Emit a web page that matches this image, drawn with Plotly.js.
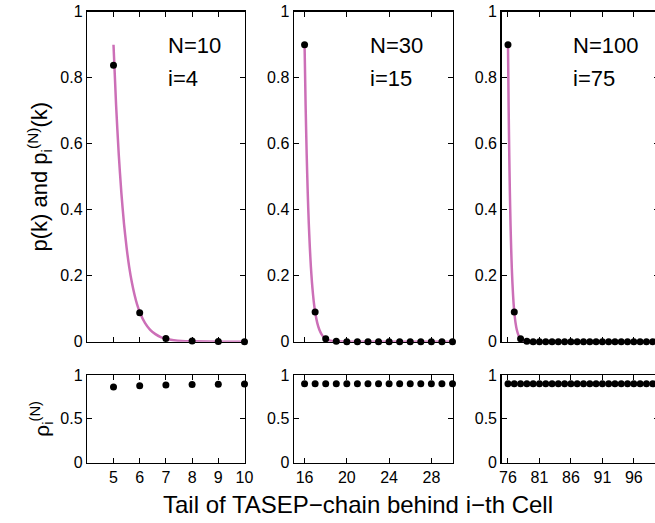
<!DOCTYPE html>
<html>
<head>
<meta charset="utf-8">
<script src="https://cdn.plot.ly/plotly-3.0.1.min.js"></script>
<style>html,body{margin:0;padding:0;overflow:hidden;background:#fff;}</style>
</head>
<body>
<div id="chart"></div>
<script>
// ---- data ----
// panel 1: N=10, i=4
const pts1K = [5, 6, 7, 8, 9, 10];
const pts1P = [0.838, 0.088, 0.010, 0.002, 0.0005, 0.0001];
const rho1 = [0.863, 0.878, 0.886, 0.891, 0.894, 0.897];
const curve1K = [5, 5.1, 5.2, 5.3, 5.4, 5.5, 5.6, 5.7, 5.8, 5.9, 6, 6.2, 6.4, 6.6, 6.8, 7, 7.3, 7.6, 8, 9, 10];
const curve1P = [0.90, 0.715, 0.568, 0.451, 0.358, 0.285, 0.226, 0.180, 0.143, 0.113, 0.090, 0.057, 0.036, 0.023, 0.014, 0.009, 0.0045, 0.002, 0.001, 0.0001, 0];

// panel 2: N=30, i=15
const pts2K = [16, 17, 18, 19, 20, 21, 22, 23, 24, 25, 26, 27, 28, 29, 30];
const pts2P = [0.90, 0.09, 0.009, 0.001, 0, 0, 0, 0, 0, 0, 0, 0, 0, 0, 0];
const rho2 = [0.9, 0.9, 0.9, 0.9, 0.9, 0.9, 0.9, 0.9, 0.9, 0.9, 0.9, 0.9, 0.9, 0.9, 0.9];
const curve2K = [16, 16.1, 16.2, 16.3, 16.4, 16.5, 16.6, 16.7, 16.8, 16.9, 17, 17.2, 17.4, 17.6, 17.8, 18, 18.3, 18.6, 19, 20, 30];
const curve2P = [0.90, 0.715, 0.568, 0.451, 0.358, 0.285, 0.226, 0.180, 0.143, 0.113, 0.090, 0.057, 0.036, 0.023, 0.014, 0.009, 0.0045, 0.002, 0.001, 0.0001, 0];

// panel 3: N=100, i=75
const pts3K = [76, 77, 78, 79, 80, 81, 82, 83, 84, 85, 86, 87, 88, 89, 90, 91, 92, 93, 94, 95, 96, 97, 98, 99, 100];
const pts3P = [0.90, 0.09, 0.009, 0.001, 0, 0, 0, 0, 0, 0, 0, 0, 0, 0, 0, 0, 0, 0, 0, 0, 0, 0, 0, 0, 0];
const rho3 = [0.9, 0.9, 0.9, 0.9, 0.9, 0.9, 0.9, 0.9, 0.9, 0.9, 0.9, 0.9, 0.9, 0.9, 0.9, 0.9, 0.9, 0.9, 0.9, 0.9, 0.9, 0.9, 0.9, 0.9, 0.9];
const curve3K = [76, 76.1, 76.2, 76.3, 76.4, 76.5, 76.6, 76.7, 76.8, 76.9, 77, 77.2, 77.4, 77.6, 77.8, 78, 78.3, 78.6, 79, 80, 100];
const curve3P = [0.90, 0.715, 0.568, 0.451, 0.358, 0.285, 0.226, 0.180, 0.143, 0.113, 0.090, 0.057, 0.036, 0.023, 0.014, 0.009, 0.0045, 0.002, 0.001, 0.0001, 0];

const tick1 = [5, 6, 7, 8, 9, 10];
const tick2 = [16, 20, 24, 28];
const tick3 = [76, 81, 86, 91, 96];
const panelLabels = [["N=10", "i=4"], ["N=30", "i=15"], ["N=100", "i=75"]];
const labelX = [7, 22, 86];

// ---- styling ----
const FONT = "'Liberation Sans', Arial, Helvetica, sans-serif";
const curveColor = "#cc6fb7";
const W = 665, H = 523;

function dot(x, y, xa, ya) {
  return {x: x, y: y, xaxis: xa, yaxis: ya, type: 'scatter', mode: 'markers',
    marker: {color: 'black', size: 7}, cliponaxis: false, hoverinfo: 'skip'};
}
function curve(x, y, xa, ya) {
  return {x: x, y: y, xaxis: xa, yaxis: ya, type: 'scatter', mode: 'lines',
    line: {color: curveColor, width: 2.5, shape: 'spline', smoothing: 0.6},
    cliponaxis: false, hoverinfo: 'skip'};
}

const data = [
  curve(curve1K, curve1P, 'x', 'y'), dot(pts1K, pts1P, 'x', 'y'),
  curve(curve2K, curve2P, 'x2', 'y2'), dot(pts2K, pts2P, 'x2', 'y2'),
  curve(curve3K, curve3P, 'x3', 'y3'), dot(pts3K, pts3P, 'x3', 'y3'),
  dot(pts1K, rho1, 'x4', 'y4'),
  dot(pts2K, rho2, 'x5', 'y5'),
  dot(pts3K, rho3, 'x6', 'y6')
];

function ax(extra) {
  return Object.assign({
    showline: true, linecolor: 'black', linewidth: 1.5, mirror: 'ticks',
    ticks: 'inside', ticklen: 5, tickwidth: 1, tickcolor: 'black',
    showgrid: false, zeroline: false, fixedrange: true,
    tickfont: {family: FONT, size: 16, color: 'black'}
  }, extra);
}

const xd = [[87.3 / W, 244.5 / W], [294 / W, 452.5 / W], [501.7 / W, 659 / W]];
const yTop = [1 - 341.7 / H, 1 - 11.7 / H];
const yBot = [1 - 462.7 / H, 1 - 375 / H];
const ranges = [[4, 10], [15, 30], [75, 100]];
const ticks = [tick1, tick2, tick3];

const layout = {
  width: W, height: H,
  margin: {l: 0, r: 0, t: 0, b: 0},
  paper_bgcolor: 'white', plot_bgcolor: 'white',
  showlegend: false,
  font: {family: FONT, color: 'black'},
  annotations: []
};

for (let p = 0; p < 3; p++) {
  const n = p + 1, m = p + 4;
  const sx = n === 1 ? '' : String(n);
  layout['xaxis' + sx] = ax({domain: xd[p], range: ranges[p], anchor: 'y' + sx,
    tickvals: ticks[p], showticklabels: false});
  layout['yaxis' + sx] = ax({domain: yTop, range: [0, 1], anchor: 'x' + sx,
    tickvals: [0, 0.2, 0.4, 0.6, 0.8, 1], ticktext: ['0', '0.2', '0.4', '0.6', '0.8', '1']});
  layout['xaxis' + m] = ax({domain: xd[p], range: ranges[p], anchor: 'y' + m,
    tickvals: ticks[p], ticktext: ticks[p].map(String)});
  layout['yaxis' + m] = ax({domain: yBot, range: [0, 1], anchor: 'x' + m,
    tickvals: [0, 0.5, 1], ticktext: ['0', '0.5', '1']});
  layout.annotations.push({xref: 'x' + sx, yref: 'y' + sx, x: labelX[p], y: 0.899,
    text: panelLabels[p][0], showarrow: false, xanchor: 'left', yanchor: 'middle',
    font: {family: FONT, size: 22, color: 'black'}});
  layout.annotations.push({xref: 'x' + sx, yref: 'y' + sx, x: labelX[p], y: 0.797,
    text: panelLabels[p][1], showarrow: false, xanchor: 'left', yanchor: 'middle',
    font: {family: FONT, size: 22, color: 'black'}});
}

layout.yaxis.title = {text: 'p(k) and p<sub>i</sub><sup>(N)</sup>(k)',
  font: {family: FONT, size: 22, color: 'black'}, standoff: 6};
layout.yaxis4.title = {text: 'ρ<sub>i</sub><sup>(N)</sup>',
  font: {family: FONT, size: 21, color: 'black'}, standoff: 5};

layout.annotations.push({xref: 'paper', yref: 'paper', x: 358 / W, y: 1 - 504 / H,
  text: 'Tail of TASEP\u2212chain behind i\u2212th Cell', showarrow: false,
  xanchor: 'center', yanchor: 'middle', font: {family: FONT, size: 24, color: 'black'}});

Plotly.newPlot('chart', data, layout, {displayModeBar: false, staticPlot: true});
</script>
</body>
</html>
